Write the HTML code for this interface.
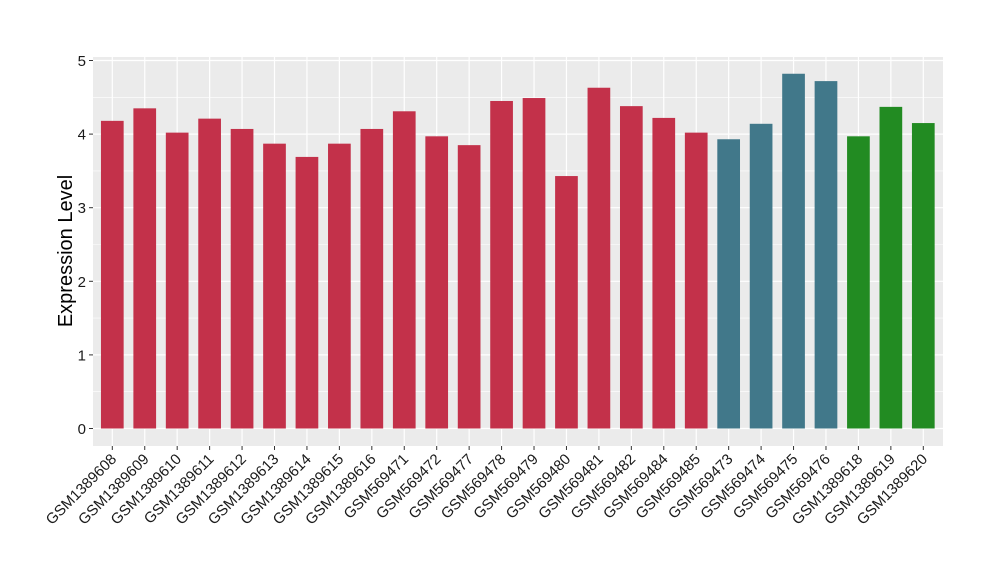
<!DOCTYPE html>
<html><head><meta charset="utf-8"><style>body{margin:0;background:#fff}svg{display:block}</style></head>
<body>
<svg id="s" width="1000" height="580" xmlns="http://www.w3.org/2000/svg" font-family="Liberation Sans, Arial, sans-serif">
<rect x="93" y="57" width="850" height="389" fill="#EBEBEB"/>
<g id="g"></g>
</svg>
<script>
const vals=[4.18,4.35,4.02,4.21,4.07,3.87,3.69,3.87,4.07,4.31,3.97,3.85,4.45,4.49,3.43,4.63,4.38,4.22,4.02,3.93,4.14,4.82,4.72,3.97,4.37,4.15];
const labels=["GSM1389608","GSM1389609","GSM1389610","GSM1389611","GSM1389612","GSM1389613","GSM1389614","GSM1389615","GSM1389616","GSM569471","GSM569472","GSM569477","GSM569478","GSM569479","GSM569480","GSM569481","GSM569482","GSM569484","GSM569485","GSM569473","GSM569474","GSM569475","GSM569476","GSM1389618","GSM1389619","GSM1389620"];
const y0=428.5,u=73.6,x0=112.3,dx=32.44,bw=22.7;
let h='';
for(let v=0.5;v<5;v+=1){const y=y0-v*u;h+=`<line x1="93" x2="943" y1="${y}" y2="${y}" stroke="#fff" stroke-width="0.6"/>`;}
for(let v=0;v<=5;v++){const y=y0-v*u;h+=`<line x1="93" x2="943" y1="${y}" y2="${y}" stroke="#fff" stroke-width="1.2"/><line x1="89" x2="93" y1="${y}" y2="${y}" stroke="#333" stroke-width="1"/><text x="86" y="${y+5.5}" font-size="15" text-anchor="end" fill="#1a1a1a">${v}</text>`;}
for(let i=0;i<26;i++){const x=x0+i*dx;h+=`<line x1="${x}" x2="${x}" y1="57" y2="446" stroke="#fff" stroke-width="1.2"/>`;}
for(let i=0;i<26;i++){const x=x0+i*dx;const c=i<19?'#C3314A':i<23?'#41788A':'#228B22';const t=y0-vals[i]*u;
h+=`<rect x="${x-bw/2}" y="${t}" width="${bw}" height="${y0-t}" fill="${c}"/>`;
h+=`<line x1="${x}" x2="${x}" y1="446" y2="450" stroke="#333"/>`;
h+=`<text transform="translate(${x+5},${460}) rotate(-45)" font-size="15" text-anchor="end" fill="#1a1a1a">${labels[i]}</text>`;}
h+=`<text transform="translate(72,251) rotate(-90)" font-size="20" text-anchor="middle" fill="#000">Expression Level</text>`;
document.getElementById('g').innerHTML=h;
</script>
</body></html>
